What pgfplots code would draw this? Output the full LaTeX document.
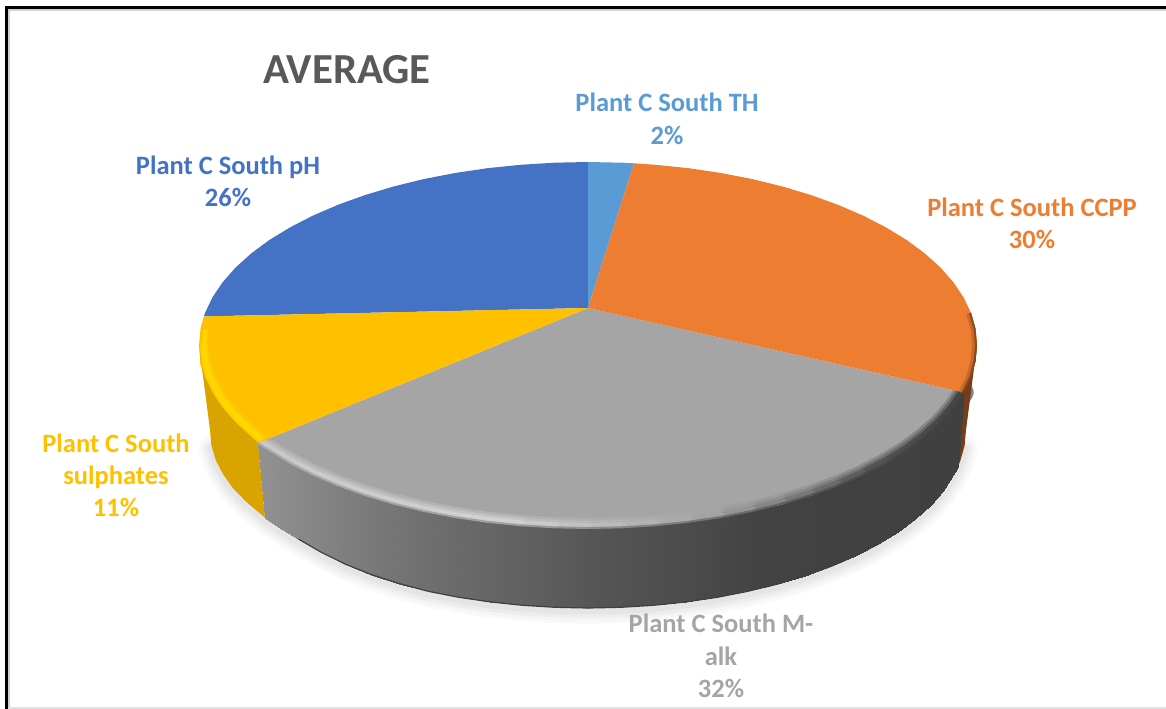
\documentclass[border=0pt]{standalone}
\usepackage{pgfplots}
\usepackage{pgfplotstable}
\usepackage{fontspec}
\setmainfont{Carlito}
\pgfplotsset{compat=1.18}

% rim of the upper face: grey slice, from the orange side to the yellow side
\pgfplotstableread{
x y
963.7 392.4
953.5 407.6
940.6 422.3
924.9 436.5
906.7 450
886 462.6
863.1 474.4
838 485.2
811.1 494.9
782.5 503.5
752.4 510.9
721 517
688.7 521.8
655.5 525.2
621.9 527.3
588 528
554.1 527.3
520.5 525.2
487.3 521.8
455 517
423.6 510.9
393.5 503.5
364.9 494.9
338 485.2
312.9 474.4
290 462.6
269.3 450
258 443
}\greyrim

% grey wall: the same rim followed by the foot of the wall, point for point
\pgfplotstableread{
x y
963.7 392.4
953.5 407.6
940.6 422.3
924.9 436.5
906.7 450
886 462.6
863.1 474.4
838 485.2
811.1 494.9
782.5 503.5
752.4 510.9
721 517
688.7 521.8
655.5 525.2
621.9 527.3
588 528
554.1 527.3
520.5 525.2
487.3 521.8
455 517
423.6 510.9
393.5 503.5
364.9 494.9
338 485.2
312.9 474.4
290 462.6
269.3 450
258 443
957.7 467
943.2 490.9
930.6 505.2
915.4 519
897.6 532.1
877.6 544.4
855.3 555.9
831 566.4
804.8 575.8
777 584.2
747.8 591.3
717.3 597.3
685.6 601.9
653.6 605.3
620.9 607.3
588 608
555.1 607.3
522.4 605.3
490.4 601.9
458.7 597.3
428.2 591.3
399 583.5
371.2 574.5
345 564
320.7 552
298.4 539
278.4 527
265 517.5
}\greywall

% yellow bevel, a little inside the rim
\pgfplotstableread{
x y
262.4 439.3
255.4 434
240 420.2
227.2 405.9
217.1 391.1
209.8 375.9
205.5 360.5
}\yellowbevel

% right end of the orange rim
\pgfplotstableread{
x y
971.1 313.2
975.5 329
977 345
975.5 361
971.1 376.8
963.7 392.4
}\orangerim

% lower edge of the wall
\pgfplotstableread{
x y
964.6 445.5
960.3 460.9
953.1 476.1
943.2 490.9
930.6 505.2
915.4 519
897.6 532.1
877.6 544.4
855.3 555.9
831 566.4
804.8 575.8
777 584.2
747.8 591.3
717.3 597.3
685.6 601.9
653.6 605.3
620.9 607.3
588 608
555.1 607.3
522.4 605.3
490.4 601.9
458.7 597.3
428.2 591.3
399 583.5
371.2 574.5
345 564
320.7 552
298.4 539
278.4 527
260.6 514
245.4 501
232.8 488
222.9 474
215.7 460
211.4 445.5
}\wallbase

% colours along the grey rim and wall, by distance from the left end of the slice
\pgfplotsset{
  colormap={rimA}{rgb255(0pt)=(177,177,177); rgb255(242pt)=(180,180,180); rgb255(342pt)=(173,173,173); rgb255(442pt)=(165,165,165); rgb255(522pt)=(153,153,153); rgb255(622pt)=(137,137,137); rgb255(706pt)=(133,133,133)},
  colormap={rimB}{rgb255(0pt)=(188,188,188); rgb255(242pt)=(195,195,195); rgb255(342pt)=(180,180,180); rgb255(442pt)=(165,165,165); rgb255(522pt)=(141,141,141); rgb255(622pt)=(109,109,109); rgb255(706pt)=(100,100,100)},
  colormap={rimC}{rgb255(0pt)=(200,200,200); rgb255(242pt)=(210,210,210); rgb255(342pt)=(188,188,188); rgb255(442pt)=(165,165,165); rgb255(522pt)=(128,128,128); rgb255(622pt)=(80,80,80); rgb255(706pt)=(68,68,68)},
  colormap={rimW}{rgb255(0pt)=(173,173,173); rgb255(242pt)=(160,160,160); rgb255(342pt)=(140,140,140); rgb255(442pt)=(118,118,118); rgb255(522pt)=(97,97,97); rgb255(622pt)=(72,72,72); rgb255(706pt)=(66,66,66)},
  colormap={wall}{rgb255(0pt)=(146,146,146); rgb255(100pt)=(124,124,124); rgb255(162pt)=(112,112,112); rgb255(342pt)=(85,85,85); rgb255(512pt)=(66,66,66); rgb255(706pt)=(64,64,64)},
}

\definecolor{cTH}{HTML}{5B9BD5}
\definecolor{cCCPP}{HTML}{ED7D31}
\definecolor{cMalk}{HTML}{A5A5A5}
\definecolor{cSul}{HTML}{FFC000}
\definecolor{cPH}{HTML}{4472C4}
\definecolor{cTitle}{HTML}{595959}

\newcommand{\lab}[4]{\node[text=#3,font=\fontsize{26.6}{32}\selectfont\bfseries,anchor=base,inner sep=0pt] at (axis cs:#1,#2) {#4};}

\begin{document}
\begin{tikzpicture}
\path[use as bounding box] (0,0) rectangle (1166bp,709bp);
\begin{axis}[
  at={(0,0)},
  anchor=south west,
  hide axis,
  scale only axis,
  width=1166bp,
  height=709bp,
  xmin=0, xmax=1166,
  ymin=0, ymax=709,
  y dir=reverse,
  point meta min=258,
  point meta max=964,
]
% soft shadow under the disc
\addplot[draw=black!2,line width=26bp,line cap=round,yshift=-3bp] table {\wallbase};
\addplot[draw=black!4,line width=20bp,line cap=round,yshift=-3bp] table {\wallbase};
\addplot[draw=black!7,line width=14bp,line cap=round,yshift=-3bp] table {\wallbase};
\addplot[draw=black!10,line width=7bp,line cap=round,yshift=-3bp] table {\wallbase};

% upper face: pH
\addplot[fill=cPH,draw=none] coordinates {
(588,308)(203.8,316.4)(204.9,313.2)(212.3,297.6)(222.5,282.4)(235.4,267.7)(251.1,253.5)(269.3,240)
(290,227.4)(312.9,215.6)(338,204.8)(364.9,195.1)(393.5,186.5)(423.6,179.1)(455,173)(487.3,168.2)
(520.5,164.8)(554.1,162.7)(588,162)};
% upper face: TH
\addplot[fill=cTH,draw=none] coordinates {(588,308)(588,162)(621.9,162.7)(634,163.3)};
% upper face: M-alk
\addplot[fill=cMalk,draw=none] coordinates {
(588,308)(963.7,392.4)(953.5,407.6)(940.6,422.3)(924.9,436.5)(906.7,450)(886,462.6)(863.1,474.4)
(838,485.2)(811.1,494.9)(782.5,503.5)(752.4,510.9)(721,517)(688.7,521.8)(655.5,525.2)(621.9,527.3)
(588,528)(554.1,527.3)(520.5,525.2)(487.3,521.8)(455,517)(423.6,510.9)(393.5,503.5)(364.9,494.9)
(338,485.2)(312.9,474.4)(290,462.6)(269.3,450)(258,443)};
% bevel along the M-alk rim
\addplot[mesh,point meta=x,colormap name=rimA,line width=20bp,line cap=round] table {\greyrim};
\addplot[mesh,point meta=x,colormap name=rimB,line width=15bp,line cap=round] table {\greyrim};
\addplot[mesh,point meta=x,colormap name=rimC,line width=10bp,line cap=round] table {\greyrim};

% upper face: CCPP
\addplot[fill=cCCPP,draw=none] coordinates {
(588,308)(634,163.3)(655.5,164.8)(688.7,168.2)(721,173)(752.4,179.1)(782.5,186.5)(811.1,195.1)
(838,204.8)(863.1,215.6)(886,227.4)(906.7,240)(924.9,253.5)(940.6,267.7)(953.5,282.4)(963.7,297.6)
(971.1,313.2)(975.5,329)(977,345)(975.5,361)(971.1,376.8)(963.7,392.4)};
\addplot[draw=cCCPP!85!black,line width=5bp,xshift=-2.5bp] table {\orangerim};
\addplot[draw=cCCPP!60!black,line width=2bp,xshift=-1bp] table {\orangerim};

% upper face: sulphates
\addplot[fill=cSul,draw=none] coordinates {
(588,308)(258,443)(251.1,436.5)(235.4,422.3)(222.5,407.6)(212.3,392.4)(204.9,376.8)(200.5,361)
(199,345)(200.5,329)(203.8,316.4)};
\addplot[draw={rgb,255:red,255;green,198;blue,0},line width=12bp] table {\yellowbevel};
\addplot[draw={rgb,255:red,255;green,206;blue,0},line width=8bp] coordinates {(262.4,439.3)(255.4,434)(240,420.2)(227.2,405.9)(217.1,391.1)(209.8,375.9)(205.5,360.5)(204,345)};
\addplot[draw={rgb,255:red,255;green,215;blue,0},line width=4.5bp] coordinates {(262.4,439.3)(255.4,434)(240,420.2)(227.2,405.9)(217.1,391.1)(209.8,375.9)(205.5,360.5)(204,345)(205.5,329.5)};

% wall: CCPP
\addplot[fill=cCCPP!50!black,draw=none] coordinates {
(977,345)(975.5,361)(971.1,376.8)(963.7,392.4)(957.7,467)(960.3,460.9)(964.6,445.5)(966,430)};
% wall: sulphates
\addplot[fill=cSul!85!black,draw=none] coordinates {
(258,443)(251.1,436.5)(235.4,422.3)(222.5,407.6)(212.3,392.4)(204.9,376.8)(200.5,361)(199,345)
(210,430)(211.4,445.5)(215.7,460)(222.9,474)(232.8,488)(245.4,501)(260.6,514)(265,517.5)};
% wall: M-alk, shaded strip by strip across the slice
\addplot[patch,patch type=rectangle,shader=interp,point meta=x,colormap name=wall,
  table/row sep=\\,
  patch table={
0 1 29 28\\
1 2 30 29\\
2 3 31 30\\
3 4 32 31\\
4 5 33 32\\
5 6 34 33\\
6 7 35 34\\
7 8 36 35\\
8 9 37 36\\
9 10 38 37\\
10 11 39 38\\
11 12 40 39\\
12 13 41 40\\
13 14 42 41\\
14 15 43 42\\
15 16 44 43\\
16 17 45 44\\
17 18 46 45\\
18 19 47 46\\
19 20 48 47\\
20 21 49 48\\
21 22 50 49\\
22 23 51 50\\
23 24 52 51\\
24 25 53 52\\
25 26 54 53\\
26 27 55 54\\
}] table {\greywall};
% soft seam where the bevel meets the wall
\addplot[mesh,point meta=x,colormap name=rimW,line width=2bp,line cap=round] table {\greyrim};
% darker line along the foot of the wall
\addplot[draw=black!75,line width=1.2bp] coordinates {
(298.4,539)(320.7,552)(345,564)(371.2,574.5)(399,583.5)(428.2,591.3)(458.7,597.3)
(490.4,601.9)(522.4,605.3)(555.1,607.3)(588,608)(620.9,607.3)(653.6,605.3)(685.6,601.9)(717.3,597.3)
(747.8,591.3)(777,584.2)(804.8,575.8)(831,566.4)(855.3,555.9)(877.6,544.4)(897.6,532.1)(915.4,519)};

% outer frame
\addplot[draw=black!18,line width=2bp] coordinates {(9,709)(9,10)(1166,10)};
\addplot[draw=black,line width=3bp] coordinates {(6.5,709)(6.5,7.5)(1166,7.5)};
\addplot[draw=black!12,line width=2.5bp] coordinates {(8,708)(1166,708)};

% title and slice labels
\node[text=cTitle,font=\fontsize{43}{50}\selectfont\bfseries,anchor=base,inner sep=0pt] at (axis cs:347,83.5) {AVERAGE};
\lab{667}{112}{cTH}{Plant C South TH}
\lab{667}{145}{cTH}{2\%}
\lab{228}{174}{cPH}{Plant C South pH}
\lab{228}{206}{cPH}{26\%}
\lab{1032}{216}{cCCPP}{Plant C South CCPP}
\lab{1032}{248}{cCCPP}{30\%}
\lab{116}{452}{cSul}{Plant C South}
\lab{116}{484}{cSul}{sulphates}
\lab{116}{516}{cSul}{11\%}
\lab{721}{632}{cMalk}{Plant C South M-}
\lab{721}{665}{cMalk}{alk}
\lab{721}{697}{cMalk}{32\%}
\end{axis}
\end{tikzpicture}
\end{document}
